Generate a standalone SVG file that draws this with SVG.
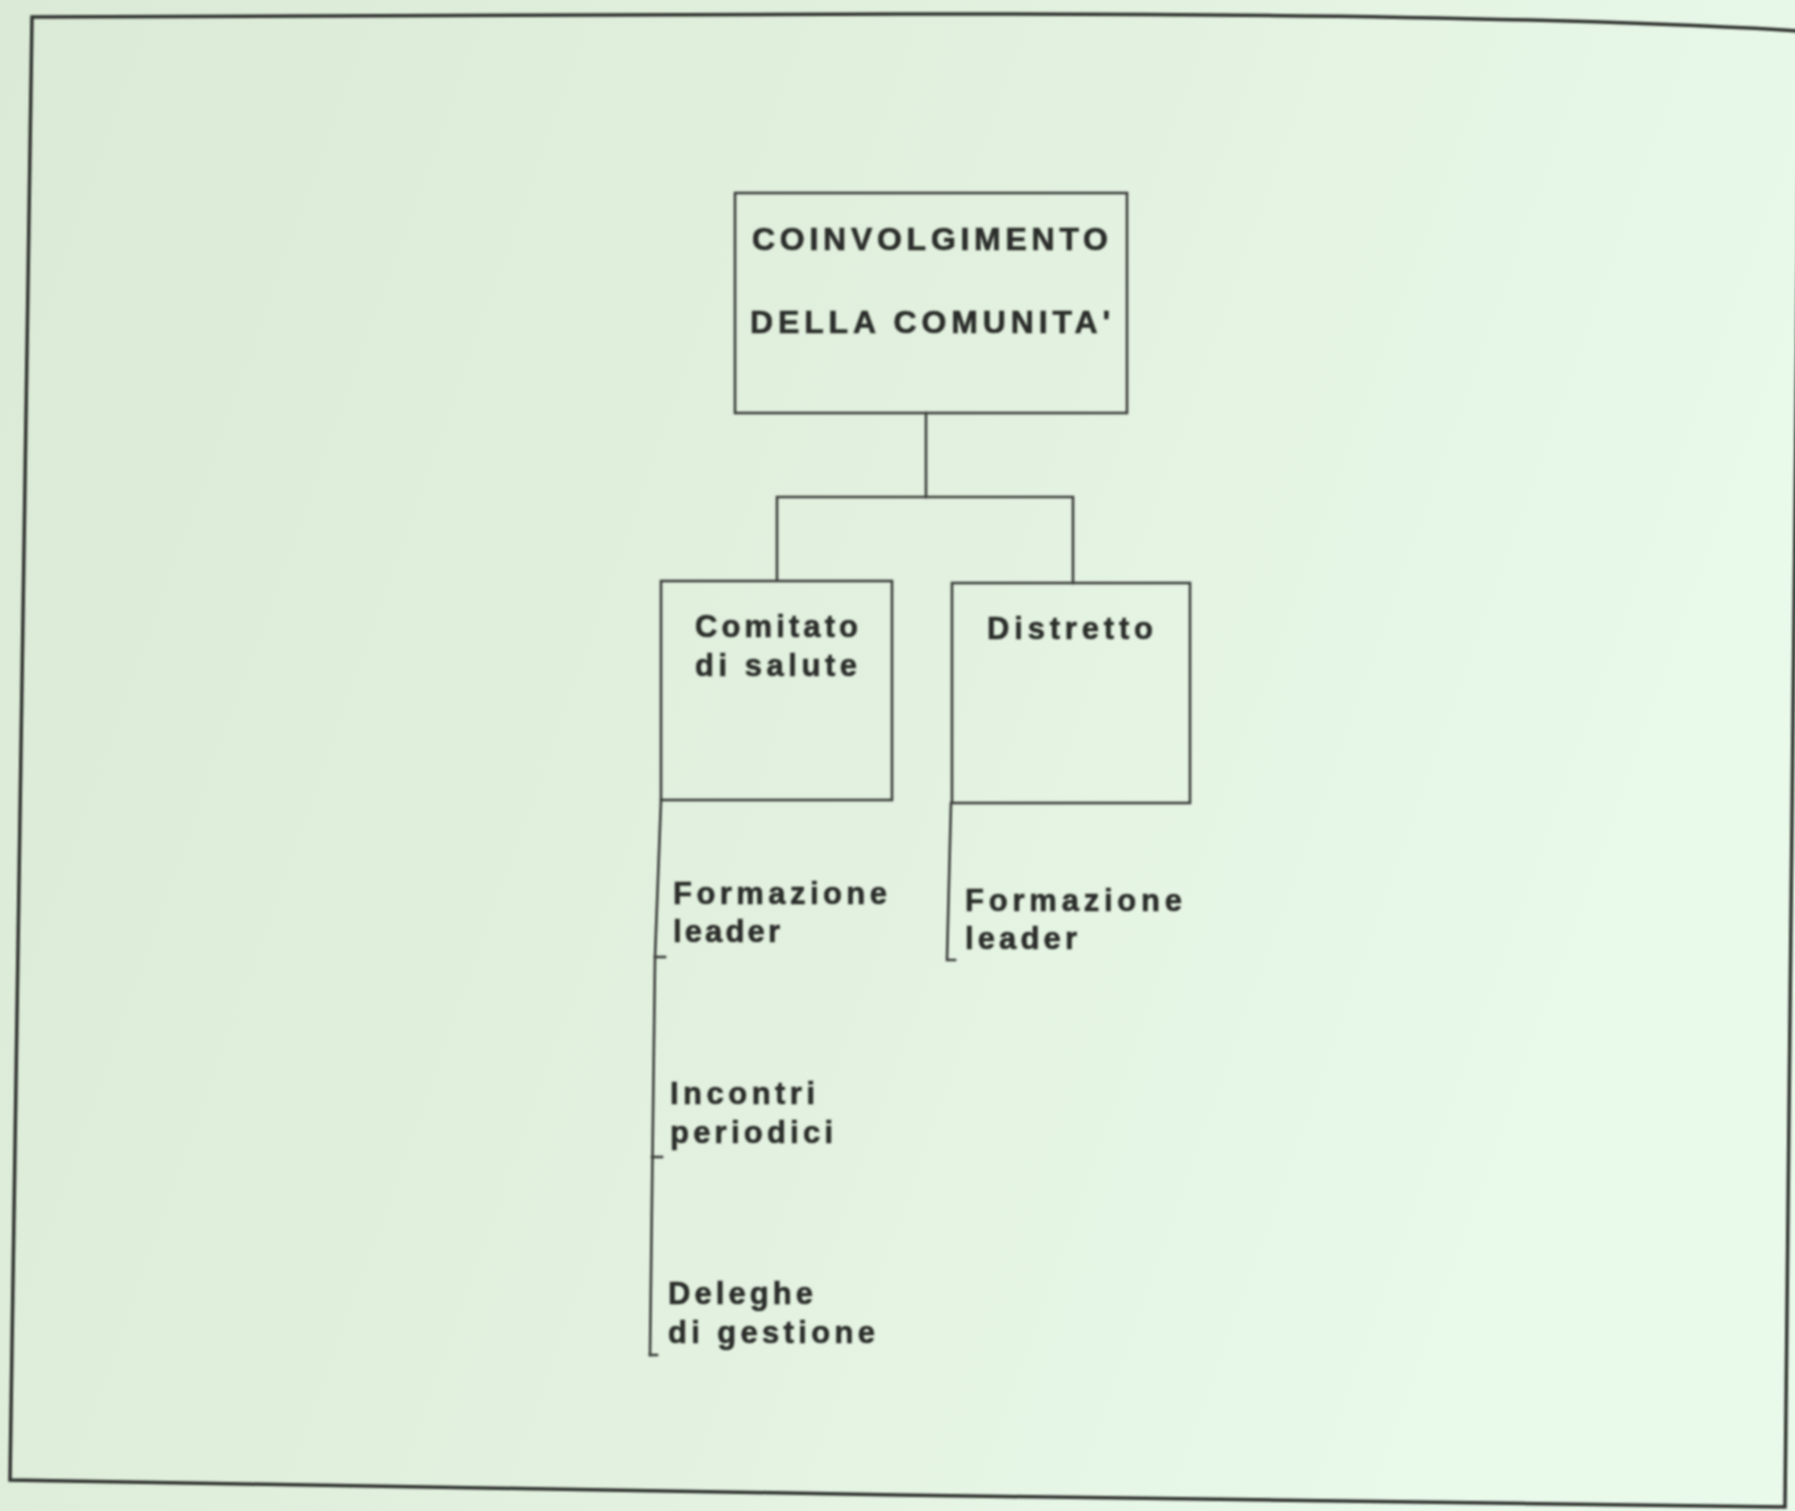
<svg xmlns="http://www.w3.org/2000/svg" width="1795" height="1511" viewBox="0 0 1795 1511">
  <defs>
    <linearGradient id="paper" x1="0" y1="0" x2="1" y2="0.3">
      <stop offset="0" stop-color="#dbead6"/>
      <stop offset="0.6" stop-color="#e3f2e0"/>
      <stop offset="1" stop-color="#e9f9ea"/>
    </linearGradient>
    <filter id="soft" x="-2%" y="-2%" width="104%" height="104%">
      <feGaussianBlur stdDeviation="0.8"/>
    </filter>
  </defs>
  <style>
    .ink { fill: none; stroke: #3b3d3a; stroke-width: 2.6; stroke-linecap: square; stroke-linejoin: miter; }
    .frame { fill: none; stroke: #2f312e; stroke-width: 3.5; }
    .lbl { font-family: "Liberation Sans", Arial, sans-serif; font-weight: bold; fill: #2b2d2a; stroke: #2b2d2a; stroke-width: 0.6; font-size: 31px; }
    .cap { font-size: 32px; }
  </style>

  <rect width="1795" height="1511" fill="url(#paper)"/>

  <g filter="url(#soft)">
    <!-- outer page frame, following the slight curl of the sheet -->
    <path class="frame" d="M32,17 L900,14 Q1500,13 1800,31 L1785,1507 Q1500,1505 900,1495 L10,1480 Z"/>

    <!-- connectors -->
    <g id="connectors" class="ink">
      <path d="M926,413 L926,497"/>
      <path d="M777,580 L777,497 L1073,497 L1073,583"/>
      <!-- list spine under Comitato di salute -->
      <path d="M661,800 L655,957 L650,1355"/>
      <path d="M655,957 L665,957"/>
      <path d="M652,1157 L662,1157"/>
      <path d="M650,1355 L657,1355"/>
      <!-- list spine under Distretto -->
      <path d="M951,803 L947,960 L955,960"/>
    </g>

    <g id="node-coinvolgimento">
      <rect class="ink" x="735" y="193" width="392" height="220"/>
      <text class="lbl cap" x="752" y="250" textLength="356" lengthAdjust="spacing">COINVOLGIMENTO</text>
      <text class="lbl cap" x="750" y="333" textLength="360" lengthAdjust="spacing">DELLA COMUNITA'</text>
    </g>

    <g id="node-comitato">
      <rect class="ink" x="661" y="581" width="231" height="219"/>
      <text class="lbl" x="695" y="637" textLength="163" lengthAdjust="spacing">Comitato</text>
      <text class="lbl" x="695" y="676" textLength="162" lengthAdjust="spacing">di salute</text>
    </g>

    <g id="node-distretto">
      <rect class="ink" x="952" y="583" width="238" height="220"/>
      <text class="lbl" x="987" y="639" textLength="166" lengthAdjust="spacing">Distretto</text>
    </g>

    <g id="item-formazione-1">
      <text class="lbl" x="673" y="904" textLength="214" lengthAdjust="spacing">Formazione</text>
      <text class="lbl" x="673" y="942" textLength="107" lengthAdjust="spacing">leader</text>
    </g>

    <g id="item-incontri">
      <text class="lbl" x="670" y="1104" textLength="145" lengthAdjust="spacing">Incontri</text>
      <text class="lbl" x="670" y="1143" textLength="163" lengthAdjust="spacing">periodici</text>
    </g>

    <g id="item-deleghe">
      <text class="lbl" x="668" y="1304" textLength="145" lengthAdjust="spacing">Deleghe</text>
      <text class="lbl" x="668" y="1343" textLength="207" lengthAdjust="spacing">di gestione</text>
    </g>

    <g id="item-formazione-2">
      <text class="lbl" x="965" y="911" textLength="217" lengthAdjust="spacing">Formazione</text>
      <text class="lbl" x="965" y="949" textLength="112" lengthAdjust="spacing">leader</text>
    </g>
  </g>
</svg>
